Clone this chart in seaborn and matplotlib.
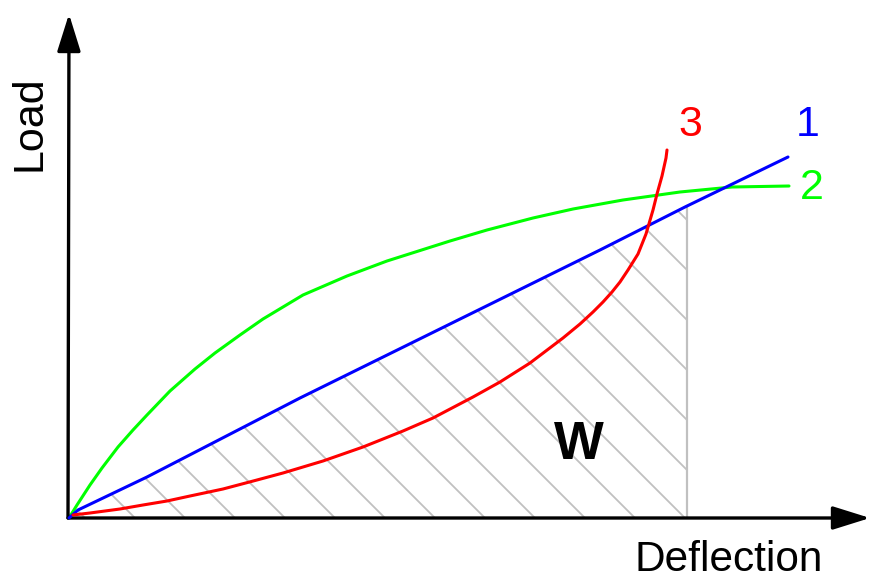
"""
Load-deflection schematic: work W under a linear spring curve
"""

import numpy as np
import matplotlib
matplotlib.use('Agg')
import matplotlib.pyplot as plt
import seaborn as sns

# curve 1 (linear), 2 (softening), 3 (stiffening), in deflection / load units
defl_1 = [0, 9, 78, 231, 531, 616, 719]
load_1 = [0, 8, 41, 120, 268, 311, 361]

defl_2 = [0, 8, 21, 33, 49, 64, 78, 101, 126, 146, 171, 194, 234, 278,
          318, 381, 418, 464, 504, 554, 611, 663, 720]
load_2 = [0, 13, 33, 50, 71, 88, 103, 127, 149, 165, 183, 199, 223, 242,
          257, 277, 288, 300, 309, 318, 326, 331, 332]

defl_3 = [4, 21, 51, 74, 98, 121, 154, 188, 214, 254, 294, 334, 364, 404, 431,
          461, 494, 511, 524, 534, 543, 551, 559, 569, 577, 584, 588, 593,
          597, 598]
load_3 = [3, 5, 9, 13, 17, 22, 29, 38, 45, 57, 71, 87, 100, 121, 136,
          155, 180, 194, 206, 216, 226, 236, 248, 264, 284, 308, 324, 342,
          360, 368]

w_limit = 618          # deflection where the work area ends
curve_labels = ['1', '2', '3']
curve_colors = ['#0000ff', '#00ff00', '#ff0000']

sns.set_style('white')
plt.rcParams['font.family'] = ['Liberation Sans', 'DejaVu Sans']
plt.rcParams['text.color'] = 'black'

fig = plt.figure(figsize=(8.74, 5.79), dpi=100)
ax = fig.add_axes([0, 0, 1, 1])
ax.set_xlim(-69, 805)
ax.set_ylim(-61, 518)
ax.axis('off')

# hatched work area under curve 1
xs = np.linspace(0, w_limit, 200)
ys = np.interp(xs, defl_1, load_1)
area = ax.fill_between(xs, 0, ys, facecolor='none', edgecolor='none')
clip = area.get_paths()[0]
for x0 in np.arange(16, w_limit + 400, 50):
    hl, = ax.plot([x0, x0 - 400], [0, 400], color='#c0c0c0', lw=1.3, zorder=1)
    hl.set_clip_path(clip, ax.transData)
ax.plot([w_limit, w_limit], [0, np.interp(w_limit, defl_1, load_1)],
        color='#c0c0c0', lw=1.6, zorder=1)

sns.lineplot(x=defl_2, y=load_2, color=curve_colors[1], lw=2.2, sort=False,
             ax=ax, zorder=3)
sns.lineplot(x=defl_1, y=load_1, color=curve_colors[0], lw=2.2, sort=False,
             ax=ax, zorder=4)
sns.lineplot(x=defl_3, y=load_3, color=curve_colors[2], lw=2.2, sort=False,
             ax=ax, zorder=5)

# axes with arrow heads
arrow = dict(arrowstyle='-|>,head_length=1.15,head_width=0.36', mutation_scale=20,
             lw=2.4, color='black', shrinkA=0, shrinkB=0)
ax.annotate('', xy=(0, 504), xytext=(-1, 0), arrowprops=arrow)
ax.annotate('', xy=(801, 0), xytext=(-1, 0), arrowprops=arrow)

ax.text(-39, 395, 'Load', rotation=90, fontsize=31, ha='center', va='center')
ax.text(660, -53, 'Deflection', fontsize=30.5, ha='center', va='baseline')

ax.text(739, 393, curve_labels[0], color=curve_colors[0], fontsize=31,
        ha='center', va='center')
ax.text(743, 330, curve_labels[1], color=curve_colors[1], fontsize=31,
        ha='center', va='center')
ax.text(621, 393, curve_labels[2], color=curve_colors[2], fontsize=31,
        ha='center', va='center')
ax.text(510, 73, 'W', fontsize=38, fontweight='bold', ha='center', va='center')

fig.savefig('out.png', dpi=100)
